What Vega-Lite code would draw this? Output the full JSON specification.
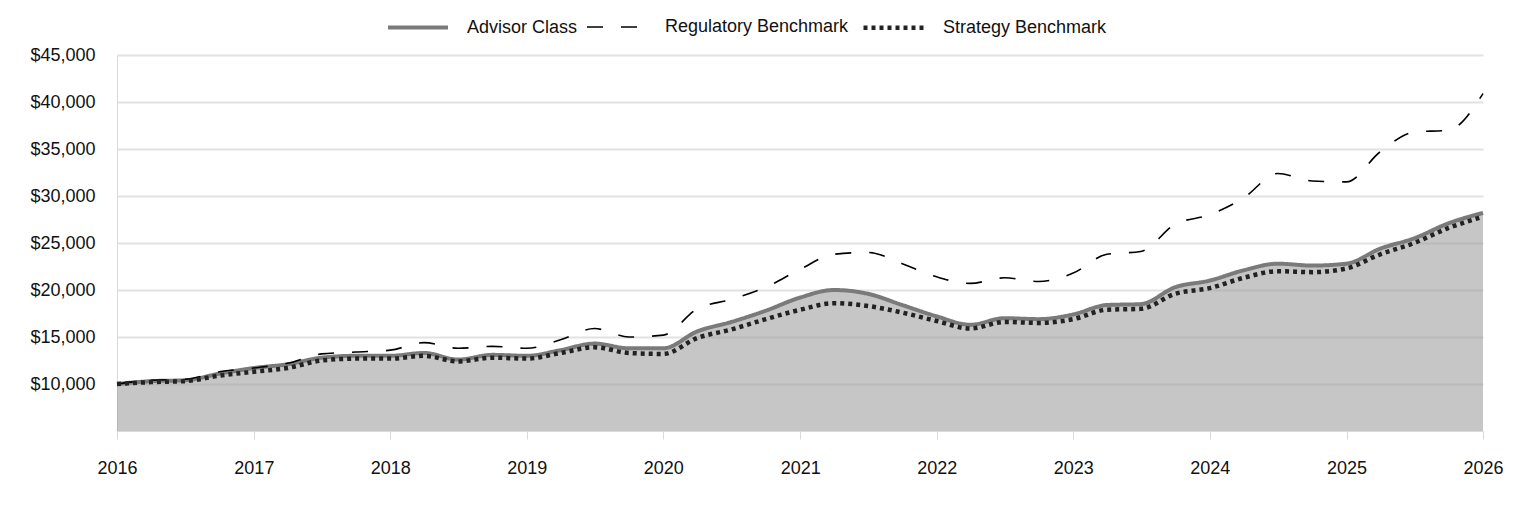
{
  "$schema": "https://vega.github.io/schema/vega-lite/v6.json",
  "width": 1366,
  "height": 376,
  "autosize": {"type": "none"},
  "padding": {"left": 117, "top": 55, "right": 41, "bottom": 85},
  "background": "white",
  "config": {
    "view": {"stroke": null},
    "font": "Liberation Sans",
    "axis": {"labelFont": "Liberation Sans", "labelFontSize": 18, "labelColor": "#111111"},
    "legend": {"labelFont": "Liberation Sans", "labelFontSize": 18, "labelColor": "#111111", "labelLimit": 400}
  },
  "datasets": {
    "d": [
      {"date": "2016-01-01", "A": 10000, "R": 10000, "S": 10000},
      {"date": "2016-04-01", "A": 10300, "R": 10400, "S": 10200},
      {"date": "2016-07-01", "A": 10400, "R": 10500, "S": 10300},
      {"date": "2016-10-01", "A": 11100, "R": 11300, "S": 10900},
      {"date": "2017-01-01", "A": 11700, "R": 11700, "S": 11300},
      {"date": "2017-04-01", "A": 12100, "R": 12200, "S": 11700},
      {"date": "2017-07-01", "A": 12800, "R": 13200, "S": 12500},
      {"date": "2017-10-01", "A": 13000, "R": 13400, "S": 12700},
      {"date": "2018-01-01", "A": 13000, "R": 13600, "S": 12700},
      {"date": "2018-04-01", "A": 13300, "R": 14400, "S": 13000},
      {"date": "2018-07-01", "A": 12600, "R": 13800, "S": 12400},
      {"date": "2018-10-01", "A": 13100, "R": 14000, "S": 12800},
      {"date": "2019-01-01", "A": 13000, "R": 13800, "S": 12700},
      {"date": "2019-04-01", "A": 13600, "R": 14700, "S": 13300},
      {"date": "2019-07-01", "A": 14300, "R": 15900, "S": 13900},
      {"date": "2019-10-01", "A": 13800, "R": 15000, "S": 13300},
      {"date": "2020-01-01", "A": 13800, "R": 15200, "S": 13200},
      {"date": "2020-04-01", "A": 15600, "R": 18000, "S": 14900},
      {"date": "2020-07-01", "A": 16600, "R": 19000, "S": 15800},
      {"date": "2020-10-01", "A": 17800, "R": 20300, "S": 16900},
      {"date": "2021-01-01", "A": 19200, "R": 22200, "S": 17900},
      {"date": "2021-04-01", "A": 20000, "R": 23800, "S": 18600},
      {"date": "2021-07-01", "A": 19600, "R": 24000, "S": 18300},
      {"date": "2021-10-01", "A": 18400, "R": 22800, "S": 17600},
      {"date": "2022-01-01", "A": 17200, "R": 21400, "S": 16700},
      {"date": "2022-04-01", "A": 16300, "R": 20700, "S": 15900},
      {"date": "2022-07-01", "A": 17000, "R": 21300, "S": 16600},
      {"date": "2022-10-01", "A": 16900, "R": 20900, "S": 16500},
      {"date": "2023-01-01", "A": 17400, "R": 21800, "S": 16900},
      {"date": "2023-04-01", "A": 18400, "R": 23800, "S": 17900},
      {"date": "2023-07-01", "A": 18500, "R": 24100, "S": 18000},
      {"date": "2023-10-01", "A": 20300, "R": 27000, "S": 19600},
      {"date": "2024-01-01", "A": 21000, "R": 28000, "S": 20200},
      {"date": "2024-04-01", "A": 22100, "R": 29800, "S": 21300},
      {"date": "2024-07-01", "A": 22800, "R": 32400, "S": 22000},
      {"date": "2024-10-01", "A": 22600, "R": 31600, "S": 21900},
      {"date": "2025-01-01", "A": 22800, "R": 31500, "S": 22300},
      {"date": "2025-04-01", "A": 24400, "R": 34700, "S": 23800},
      {"date": "2025-07-01", "A": 25500, "R": 36800, "S": 25000},
      {"date": "2025-10-01", "A": 27100, "R": 37000, "S": 26600},
      {"date": "2026-01-01", "A": 28200, "R": 40900, "S": 27800}
    ]
  },
  "data": {"name": "d"},
  "layer": [
    {
      "mark": {"type": "area", "interpolate": "monotone", "fill": "#a0a0a0", "fillOpacity": 0.6},
      "encoding": {
        "x": {
          "field": "date", "type": "temporal",
          "scale": {"domain": ["2016-01-01", "2026-01-01"]},
          "axis": {
            "title": null, "format": "%Y",
            "values": ["2016-01-01","2017-01-01","2018-01-01","2019-01-01","2020-01-01","2021-01-01","2022-01-01","2023-01-01","2024-01-01","2025-01-01","2026-01-01"],
            "grid": false, "domainColor": "#d9d9d9", "tickColor": "#d9d9d9", "tickSize": 8,
            "labelPadding": 20, "labelAngle": 0, "labelFlush": false, "labelAlign": "center"
          }
        },
        "y": {
          "field": "A", "type": "quantitative",
          "scale": {"domain": [5000, 45000], "nice": false, "zero": false},
          "axis": {
            "title": null, "values": [10000, 15000, 20000, 25000, 30000, 35000, 40000, 45000],
            "format": "$,.0f", "ticks": false, "domainColor": "#d9d9d9",
            "gridColor": "#e2e2e2", "gridWidth": 2, "labelPadding": 22
          }
        },
        "y2": {"datum": 5000}
      }
    },
    {
      "transform": [
        {"fold": ["A", "R", "S"], "as": ["key", "value"]},
        {"calculate": "datum.key === 'A' ? 'Advisor Class' : datum.key === 'R' ? 'Regulatory Benchmark' : 'Strategy Benchmark'", "as": "series"}
      ],
      "mark": {"type": "line", "interpolate": "monotone"},
      "encoding": {
        "x": {"field": "date", "type": "temporal"},
        "y": {"field": "value", "type": "quantitative"},
        "color": {
          "field": "series", "type": "nominal",
          "scale": {"domain": ["Advisor Class", "Regulatory Benchmark", "Strategy Benchmark"], "range": ["#7a7a7a", "#000000", "#222222"]},
          "legend": {
            "title": null, "orient": "none", "direction": "horizontal",
            "legendX": 269, "legendY": -60, "symbolType": "stroke", "symbolSize": 3600,
            "columnPadding": 5, "labelOffset": 17
          }
        },
        "strokeDash": {
          "field": "series", "type": "nominal",
          "scale": {"domain": ["Advisor Class", "Regulatory Benchmark", "Strategy Benchmark"], "range": [[1, 0], [16, 18], [4, 4]]},
          "legend": {
            "title": null, "orient": "none", "direction": "horizontal",
            "legendX": 269, "legendY": -60, "symbolType": "stroke", "symbolSize": 3600,
            "columnPadding": 5, "labelOffset": 17
          }
        },
        "strokeWidth": {
          "field": "series", "type": "nominal",
          "scale": {"type": "ordinal", "domain": ["Advisor Class", "Regulatory Benchmark", "Strategy Benchmark"], "range": [4, 1.6, 4.5]},
          "legend": {
            "title": null, "orient": "none", "direction": "horizontal",
            "legendX": 269, "legendY": -60, "symbolType": "stroke", "symbolSize": 3600,
            "columnPadding": 5, "labelOffset": 17
          }
        }
      }
    }
  ]
}
